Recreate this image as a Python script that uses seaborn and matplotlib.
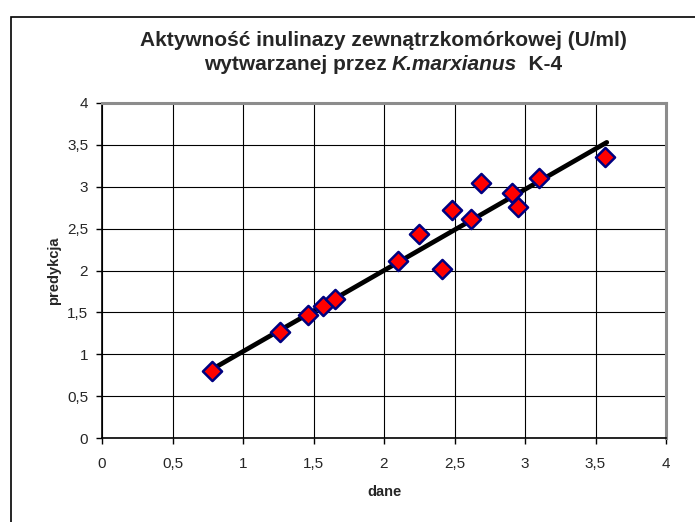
import matplotlib
matplotlib.use("Agg")
import matplotlib.pyplot as plt
import seaborn as sns
import pandas as pd
from matplotlib.patches import Rectangle

dane = [0.78, 1.26, 1.46, 1.57, 1.65, 2.10, 2.25, 2.41, 2.48, 2.62, 2.69, 2.91, 2.95, 3.10, 3.57]
predykcja = [0.80, 1.26, 1.47, 1.58, 1.66, 2.11, 2.44, 2.02, 2.72, 2.62, 3.04, 2.92, 2.76, 3.11, 3.36]
line_x = [0.79, 3.58]
line_y = [0.83, 3.53]
ticks = [0, 0.5, 1, 1.5, 2, 2.5, 3, 3.5, 4]
tick_labels = ["0", "0,5", "1", "1,5", "2", "2,5", "3", "3,5", "4"]
title1 = "Aktywność inulinazy zewnątrzkomórkowej (U/ml)"
title2_parts = ["wytwarzanej przez ", "K.marxianus", "  K-4"]

sns.set_style("white")
plt.rcParams['font.family'] = ['Liberation Sans', 'DejaVu Sans']

W, H = 695, 522
fig = plt.figure(figsize=(W / 100, H / 100), dpi=100)
fig.patch.set_facecolor("white")
ax = fig.add_axes([102 / W, 1 - 438 / H, (666 - 102) / W, (438 - 103) / H])

# outer chart frame
fig.patches.append(Rectangle((11 / W, -0.05), 1.2, 1 - 17 / H + 0.05, transform=fig.transFigure,
                             fill=False, edgecolor="black", linewidth=1.2, zorder=0))

df = pd.DataFrame({"dane": dane, "predykcja": predykcja})
ldf = pd.DataFrame({"x": line_x, "y": line_y})

sns.lineplot(data=ldf, x="x", y="y", ax=ax, color="black", linewidth=3.4, zorder=3)
sns.scatterplot(data=df, x="dane", y="predykcja", ax=ax, marker="D", s=95,
                color="#ff0000", edgecolor="#000080", linewidth=1.8, zorder=4)

ax.set_xlim(0, 4)
ax.set_ylim(0, 4)
ax.set_xticks(ticks)
ax.set_yticks(ticks)
ax.set_xticklabels(tick_labels, fontsize=11)
ax.set_yticklabels(tick_labels, fontsize=11)
ax.grid(True, color="black", linewidth=0.8)
ax.set_axisbelow(True)
ax.tick_params(axis="x", direction="out", length=4, width=1, color="black", bottom=True, pad=10)
ax.tick_params(axis="y", direction="out", length=4, width=1, color="black", left=True, pad=6)

for s in ["left", "bottom"]:
    ax.spines[s].set_color("black")
    ax.spines[s].set_linewidth(1.2)
for s in ["top", "right"]:
    ax.spines[s].set_color("#8c8c8c")
    ax.spines[s].set_linewidth(2.2)

ax.set_xlabel("dane", fontsize=10.5, fontweight="bold", labelpad=10)
ax.set_ylabel("predykcja", fontsize=10.5, fontweight="bold", labelpad=4)

TFS = 15
fig.text(383 / W, 1 - 40 / H, title1, ha="center", va="center", fontsize=TFS, fontweight="bold")

# second title line composed of pieces (italic species name)
renderer = fig.canvas.get_renderer()
styles = ["normal", "italic", "normal"]
pieces = []
total = 0
for txt, st in zip(title2_parts, styles):
    t = fig.text(0, 1 - 64 / H, txt, ha="left", va="center", fontsize=TFS,
                 fontweight="bold", fontstyle=st)
    w = t.get_window_extent(renderer).width
    pieces.append((t, w))
    total += w
x0 = 383 - total / 2
for t, w in pieces:
    t.set_x(x0 / W)
    x0 += w

fig.savefig("out.png", dpi=100, facecolor="white")
